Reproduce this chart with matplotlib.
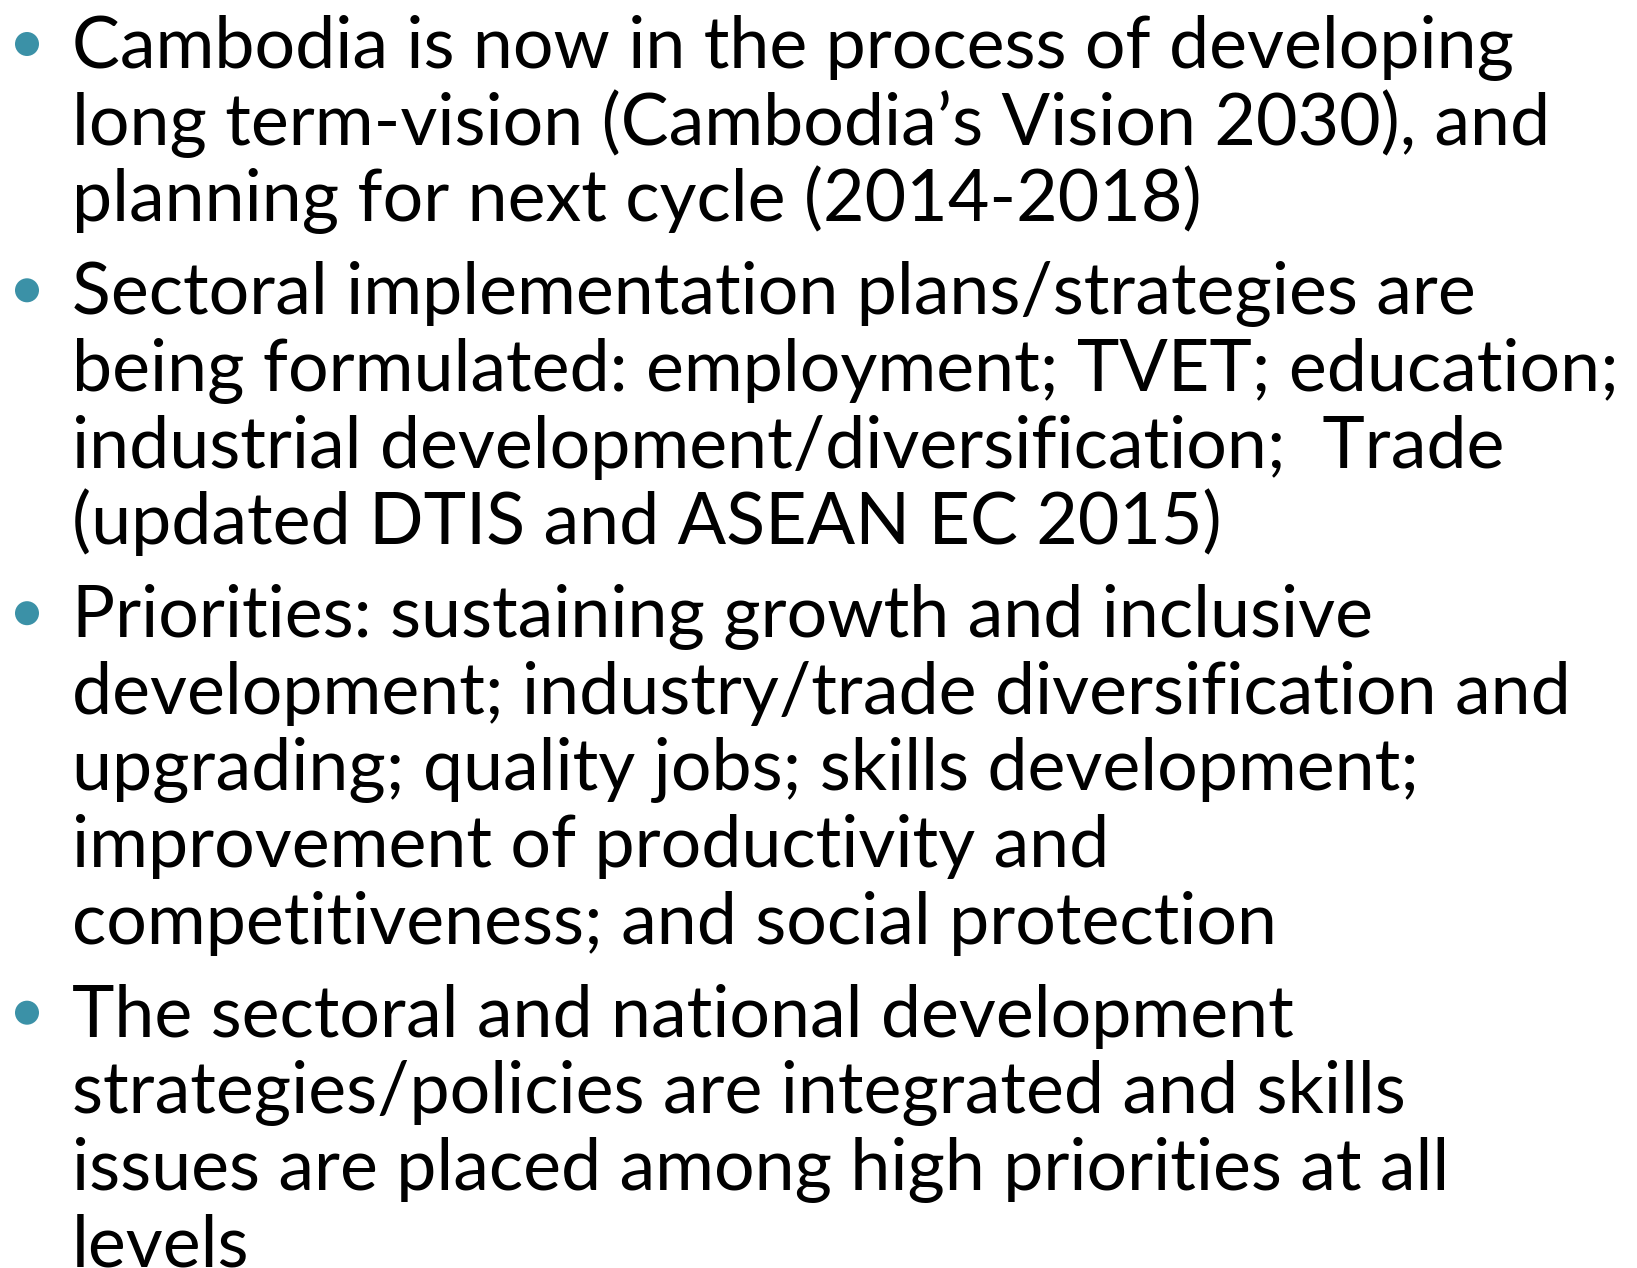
import matplotlib
matplotlib.use("Agg")
import matplotlib.pyplot as plt
from matplotlib.patches import Circle

# ---- content ----
bullet_1 = [
    "Cambodia is now in the process of developing",
    "long term-vision (Cambodia\u2019s Vision 2030), and",
    "planning for next cycle (2014-2018)",
]
bullet_2 = [
    "Sectoral implementation plans/strategies are",
    "being formulated: employment; TVET; education;",
    "industrial development/diversification;  Trade",
    "(updated DTIS and ASEAN EC 2015)",
]
bullet_3 = [
    "Priorities: sustaining growth and inclusive",
    "development; industry/trade diversification and",
    "upgrading; quality jobs; skills development;",
    "improvement of productivity and",
    "competitiveness; and social protection",
]
bullet_4 = [
    "The sectoral and national development",
    "strategies/policies are integrated and skills",
    "issues are placed among high priorities at all",
    "levels",
]
bullets = [bullet_1, bullet_2, bullet_3, bullet_4]

# ---- layout / style ----
W, H, DPI = 1637, 1268, 100
TEXT_X = 72          # px from left
FIRST_BASE = 68      # px from top (baseline of first line)
LINE_STEP = 76.6
PARA_EXTRA = 16.5
BULLET_X = 27
BULLET_DY = 24
BULLET_R = 12
BULLET_COLOR = "#3B91A7"
FONT = ["Lato", "DejaVu Sans"]
FONTSIZE = 56
MAX_RIGHT = 1620

fig = plt.figure(figsize=(W / DPI, H / DPI), dpi=DPI)
ax = fig.add_axes([0, 0, 1, 1])
ax.set_xlim(0, W)
ax.set_ylim(H, 0)
ax.axis("off")

# auto-fit font size so the widest line fits
renderer = fig.canvas.get_renderer()
probe = ax.text(0, 0, max((l for b in bullets for l in b), key=len), fontsize=FONTSIZE, family=FONT)
widest = 0
for b in bullets:
    for l in b:
        probe.set_text(l)
        widest = max(widest, probe.get_window_extent(renderer).width)
probe.remove()
fs = FONTSIZE * min(1.0, (MAX_RIGHT - TEXT_X) / widest)

y = FIRST_BASE
for i, b in enumerate(bullets):
    if i > 0:
        y += PARA_EXTRA
    ax.add_patch(Circle((BULLET_X, y - BULLET_DY), BULLET_R, color=BULLET_COLOR, lw=0))
    for line in b:
        ax.text(TEXT_X, y, line, fontsize=fs, family=FONT, color="black",
                ha="left", va="baseline")
        y += LINE_STEP

fig.savefig("out.png", dpi=DPI, facecolor="white")
